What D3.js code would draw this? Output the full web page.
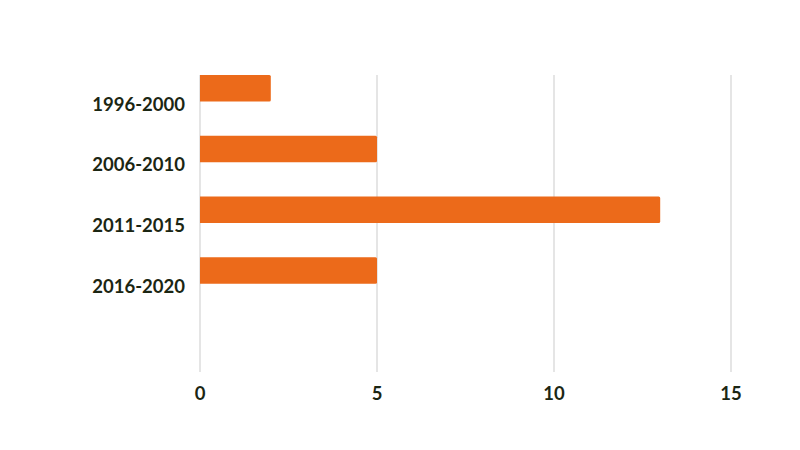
<!DOCTYPE html>
<html><head><meta charset="utf-8">
<script src="https://cdn.jsdelivr.net/npm/d3@7"></script>
<style>body{margin:0;background:#fff}text{font-family:Lato,sans-serif;font-weight:700}</style>
</head><body><svg id="c" width="800" height="450"></svg>
<script>
const categories = ["1996-2000","2006-2010","2011-2015","2016-2020"];
const values = [2,5,13,5];
const xTicks = [0,5,10,15];

const svg = d3.select("#c");
const x = d3.scaleLinear().domain([0,15]).range([200,731]);
const y = d3.scaleBand().domain(categories).range([75,283.7]).paddingInner(0.563).paddingOuter(0);
const gridTop = 75, gridBottom = 372;
const txt = "#1b2613";

svg.append("g").selectAll("line").data(xTicks).join("line")
  .attr("x1", d=>x(d)).attr("x2", d=>x(d)).attr("y1", gridTop).attr("y2", gridBottom)
  .attr("stroke", "#dcdcdc").attr("stroke-width", 1.5);

svg.append("g").selectAll("path").data(values).join("path")
  .attr("fill", "#ec6a1a")
  .attr("d", (d,i)=>{
    const x0 = x(0), x1 = x(d), y0 = y(categories[i]), h = y.bandwidth(), r = 1.5;
    return `M${x0},${y0}H${x1-r}Q${x1},${y0} ${x1},${y0+r}V${y0+h-r}Q${x1},${y0+h} ${x1-r},${y0+h}H${x0}Z`;
  });

svg.append("g").selectAll("text").data(categories).join("text")
  .attr("x", 185).attr("y", d=>y(d)+y.bandwidth()+9)
  .attr("text-anchor","end").attr("font-size",18.5).attr("fill",txt).text(d=>d);

svg.append("g").selectAll("text").data(xTicks).join("text")
  .attr("x", d=>x(d)).attr("y", 400)
  .attr("text-anchor","middle").attr("font-size",18.5).attr("fill",txt).text(d=>d);
</script></body></html>
